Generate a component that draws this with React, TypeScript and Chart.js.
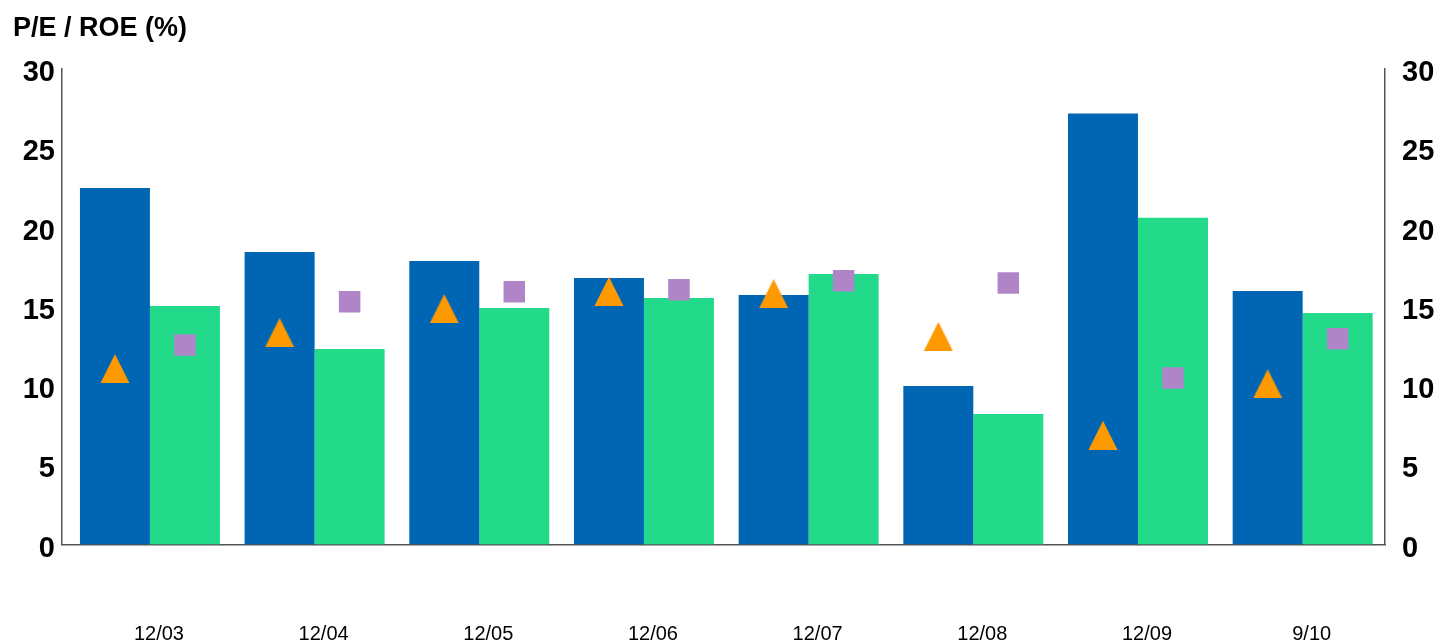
import React, { useEffect, useRef } from "react";
import { Chart, registerables } from "chart.js";

Chart.register(...registerables);

const categories = ["12/03", "12/04", "12/05", "12/06", "12/07", "12/08", "12/09", "9/10"];
const peValues = [22.49, 18.45, 17.89, 16.81, 15.74, 10.0, 27.2, 15.99];
const roeValues = [15.05, 12.33, 14.92, 15.55, 17.07, 8.23, 20.62, 14.6];
const triangleValues = [11.1, 13.37, 14.88, 15.97, 15.83, 13.13, 6.89, 10.14];
const squareValues = [12.59, 15.31, 15.94, 16.07, 16.64, 16.5, 10.5, 12.98];
const yTicks = [0, 5, 10, 15, 20, 25, 30];

const CATEGORY_PCT = 0.85;
const BAR_SHIFT = CATEGORY_PCT / 4;

function makeTriangle(): HTMLCanvasElement {
  const c = document.createElement("canvas");
  c.width = 30;
  c.height = 29;
  const ctx = c.getContext("2d")!;
  ctx.fillStyle = "#FF9900";
  ctx.beginPath();
  ctx.moveTo(15, 0);
  ctx.lineTo(29.5, 29);
  ctx.lineTo(0.5, 29);
  ctx.closePath();
  ctx.fill();
  return c;
}

export default function App() {
  const ref = useRef<HTMLCanvasElement | null>(null);

  useEffect(() => {
    if (!ref.current) return;
    const tri = makeTriangle();
    const axisFont = { family: "'Liberation Sans', Arial, sans-serif", size: 29, weight: "bold" as const };
    const chart = new Chart(ref.current, {
      type: "bar",
      data: {
        datasets: [
          {
            type: "bar",
            label: "P/E",
            data: peValues.map((v, i) => ({ x: i, y: v })),
            backgroundColor: "#0066B3",
            categoryPercentage: CATEGORY_PCT,
            barPercentage: 1,
            grouped: true,
            order: 2,
          },
          {
            type: "bar",
            label: "ROE",
            data: roeValues.map((v, i) => ({ x: i, y: v })),
            backgroundColor: "#23DA8B",
            categoryPercentage: CATEGORY_PCT,
            barPercentage: 1,
            grouped: true,
            order: 2,
          },
          {
            type: "scatter",
            label: "Triangle",
            data: triangleValues.map((v, i) => ({ x: i - BAR_SHIFT, y: v })),
            showLine: false,
            pointStyle: tri,
            pointRadius: 15,
            order: 1,
          } as any,
          {
            type: "scatter",
            label: "Square",
            data: squareValues.map((v, i) => ({ x: i + BAR_SHIFT, y: v })),
            showLine: false,
            pointStyle: "rect",
            pointRadius: 15.2,
            pointBorderWidth: 0,
            pointBackgroundColor: "#B085C8",
            pointBorderColor: "#B085C8",
            order: 1,
          } as any,
        ],
      },
      options: {
        responsive: false,
        animation: false,
        devicePixelRatio: 1,
        layout: { padding: { top: 69, left: 0, right: 0, bottom: 0 } },
        plugins: { legend: { display: false }, tooltip: { enabled: false } },
        scales: {
          x: {
            type: "linear",
            offset: false,
            min: -0.534,
            max: categories.length - 0.5,
            grid: { display: false, drawTicks: false },
            border: { display: true, color: "#555555", width: 1.5 },
            afterBuildTicks: (s: any) => {
              s.ticks = categories.map((_, i) => ({ value: i }));
            },
            ticks: {
              color: "#000000",
              font: { family: "'Liberation Sans', Arial, sans-serif", size: 20 },
              padding: 78,
              labelOffset: 9,
              maxRotation: 0,
              autoSkip: false,
              callback: (v: any) => categories[Math.round(Number(v))] ?? "",
            },
            afterFit: (s: any) => {
              s.height = 98.5;
            },
          },
          y: {
            position: "left",
            min: 0,
            max: 30,
            grid: { display: false, drawTicks: false },
            border: { display: true, color: "#555555", width: 1.5 },
            afterBuildTicks: (s: any) => {
              s.ticks = yTicks.map((v) => ({ value: v }));
            },
            ticks: { color: "#000000", font: axisFont, padding: 7, labelOffset: 4 },
            afterFit: (s: any) => {
              s.width = 62;
            },
          },
          y2: {
            position: "right",
            min: 0,
            max: 30,
            grid: { display: false, drawTicks: false },
            border: { display: true, color: "#555555", width: 1.5 },
            afterBuildTicks: (s: any) => {
              s.ticks = yTicks.map((v) => ({ value: v }));
            },
            ticks: { color: "#000000", font: axisFont, padding: 17, labelOffset: 4 },
            afterFit: (s: any) => {
              s.width = 60;
            },
          },
        },
      },
    });
    return () => chart.destroy();
  }, []);

  return (
    <div style={{ position: "fixed", left: 0, top: 0, width: 1445, height: 643, background: "#ffffff", overflow: "hidden" }}>
      <canvas ref={ref} width={1445} height={643} style={{ position: "absolute", left: 0, top: 0 }} />
      <div
        style={{
          position: "absolute",
          left: 13,
          top: 13,
          fontFamily: "'Liberation Sans', Arial, sans-serif",
          fontWeight: "bold",
          fontSize: 27,
          lineHeight: "28px",
          color: "#000000",
          whiteSpace: "nowrap",
        }}
      >
        P/E / ROE (%)
      </div>
    </div>
  );
}
